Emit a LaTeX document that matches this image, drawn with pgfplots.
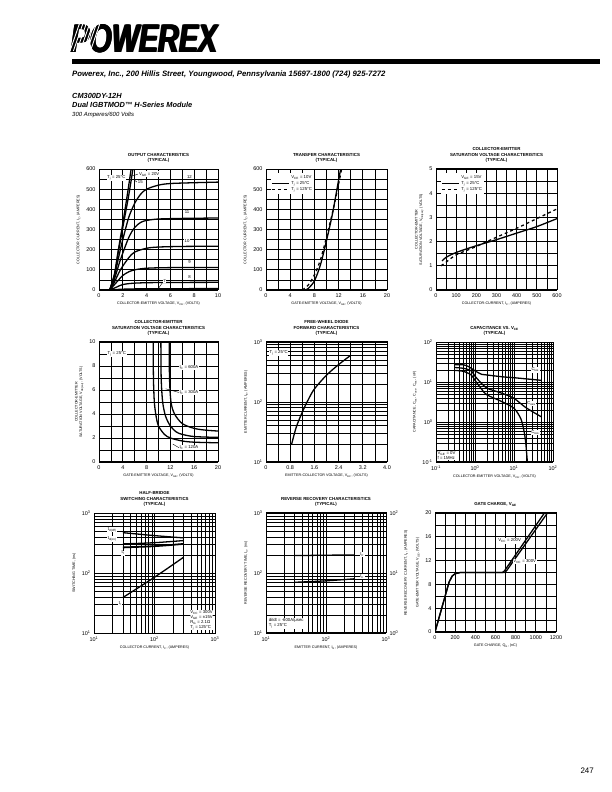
\documentclass[border=0pt]{standalone}
\usepackage{pgfplots}
\pgfplotsset{compat=1.18}
\usepackage{fontspec}
\setmainfont{Liberation Sans}
\newcommand{\tk}{\fontsize{5.5}{6}\selectfont}
\newcommand{\lb}{\fontsize{3.7}{4.4}\selectfont}
\newcommand{\ttl}{\fontsize{4.4}{5.4}\selectfont\bfseries}
\newcommand{\ann}{\fontsize{4.3}{5}\selectfont}
\pgfplotsset{
 ds/.style={scale only axis, anchor=south west, axis line style={line width=1pt},
   tick style={draw=none}, grid=both,
   major grid style={black, line width=0.75pt}, minor grid style={black, line width=0.75pt},
   tick label style={font=\tk}, label style={font=\lb}, ylabel style={align=center},
   title style={font=\ttl, align=center, yshift=-3pt},
   /pgf/number format/assume math mode=true,
   /pgf/number format/set thousands separator={},
   xlabel style={yshift=2pt}, ylabel style={yshift=-1pt},
   cycle list={black\\},
   every axis plot/.append style={line width=1.3pt, smooth, no marks}},
 lg/.style={ds, minor grid style={black, line width=0.4pt}, major grid style={black, line width=0.9pt}},
}
\tikzset{an/.style={font=\ann, fill=white, inner sep=0.6pt}}
\begin{document}
\begin{tikzpicture}[x=1bp,y=1bp]
\useasboundingbox[fill=white] (0,0) rectangle (612bp,792bp);
% header
\foreach \dx in {0,0.5,1.0,1.5} {
\node[anchor=south west, inner sep=0, font=\fontsize{40}{40}\selectfont\bfseries\itshape, xscale=0.72] at (70bp+\dx bp,739bp) {POWEREX};}
\foreach \i in {0,...,6} {\draw[white, line width=0.9pt] (70bp+\i*3.4bp,741bp) -- (80bp+\i*3.4bp,770bp);}
\fill[black] (72bp,728bp) rectangle (600bp,733bp);
\node[anchor=base west, inner sep=0, font=\fontsize{7.8}{8}\selectfont\bfseries\itshape] at (72bp,715bp) {Powerex, Inc., 200 Hillis Street, Youngwood, Pennsylvania 15697-1800 (724) 925-7272};
\node[anchor=base west, inner sep=0, font=\fontsize{7.4}{8}\selectfont\bfseries\itshape] at (72bp,693bp) {CM300DY-12H};
\node[anchor=base west, inner sep=0, font=\fontsize{7.4}{8}\selectfont\bfseries\itshape] at (72bp,684.5bp) {Dual IGBTMOD™ H-Series Module};
\node[anchor=base west, inner sep=0, font=\fontsize{6}{7}\selectfont\itshape] at (72bp,675bp) {300 Amperes/600 Volts};
\node[anchor=base east, inner sep=0, font=\fontsize{8}{9}\selectfont] at (594bp,19bp) {247};

% ---------- Plot 1: output characteristics
\begin{axis}[ds, at={(99bp,502bp)}, width=119bp, height=121bp,
 xmin=0,xmax=10,ymin=0,ymax=600,
 xtick={0,2,...,10}, minor xtick={1,3,...,9}, ytick={0,100,...,600}, minor ytick={50,150,...,550},
 title={OUTPUT CHARACTERISTICS\\(TYPICAL)},
 xlabel={COLLECTOR-EMITTER VOLTAGE, V\textsubscript{CE}, (VOLTS)},
 ylabel={COLLECTOR CURRENT, I\textsubscript{C}, (AMPERES)}]
\addplot coordinates {(0.9,0)(1.3,80)(1.6,190)(2,330)(2.4,480)(2.7,600)};
\addplot coordinates {(0.9,0)(1.3,75)(1.6,180)(2,310)(2.5,470)(2.85,600)};
\addplot coordinates {(0.9,0)(1.3,70)(1.7,175)(2,250)(2.5,360)(3,430)(3.5,475)(4,500)(5,520)(6,528)(8,532)(10,535)};
\addplot coordinates {(0.9,0)(1.3,55)(1.8,150)(2.5,260)(3,310)(3.5,335)(4,345)(5,352)(7,355)(10,357)};
\addplot coordinates {(0.9,0)(1.3,40)(1.8,100)(2.5,160)(3,188)(4,207)(5,213)(7,216)(10,217)};
\addplot coordinates {(0.9,0)(1.5,40)(2,72)(2.5,90)(3,100)(4,108)(6,111)(10,112)};
\addplot coordinates {(0.9,0)(1.5,15)(2,27)(3,34)(5,37)(10,38)};
\addplot coordinates {(0.9,0)(2,4)(4,6)(10,7)};
\node[an] at (axis cs:1.45,555) {T\textsubscript{j} = 25°C};
\draw[line width=0.4pt] (axis cs:2.75,565) -- (axis cs:3.3,575);
\node[an, anchor=west] at (axis cs:3.3,575) {V\textsubscript{GE} = 20V};
\draw[line width=0.4pt] (axis cs:2.85,550) -- (axis cs:3.2,535);
\node[an, anchor=west] at (axis cs:3.2,535) {15};
\node[an] at (axis cs:7.6,560) {12};
\node[an] at (axis cs:7.4,385) {11};
\node[an] at (axis cs:7.4,245) {10};
\node[an] at (axis cs:7.6,140) {9};
\node[an] at (axis cs:7.6,65) {8};
\node[an] at (axis cs:5.5,45) {7};
\draw[line width=0.4pt] (axis cs:5.35,38) -- (axis cs:5,8);
\end{axis}

% ---------- Plot 2: transfer
\begin{axis}[ds, at={(266bp,502bp)}, width=121bp, height=121bp,
 xmin=0,xmax=20,ymin=0,ymax=600,
 xtick={0,4,...,20}, minor xtick={2,6,...,18}, ytick={0,100,...,600}, minor ytick={50,150,...,550},
 title={TRANSFER CHARACTERISTICS\\(TYPICAL)},
 xlabel={GATE-EMITTER VOLTAGE, V\textsubscript{GE}, (VOLTS)},
 ylabel={COLLECTOR CURRENT, I\textsubscript{C}, (AMPERES)},
 legend style={at={(0.04,0.97)}, anchor=north west, draw=none, fill=white, font=\ann, inner sep=0.5pt, row sep=-2.5pt},
 legend cell align=left, legend image post style={line width=0.8pt}]
\addlegendimage{empty legend}\addlegendentry{V\textsubscript{CE} = 10V}
\addplot coordinates {(6.5,0)(7,8)(8,45)(9,125)(10,245)(11,380)(12,545)(12.35,600)};
\addlegendentry{T\textsubscript{j} = 25°C}
\addplot[dashed] coordinates {(6,0)(7,25)(8,75)(9,150)(10,262)(11,385)(12,525)(12.5,600)};
\addlegendentry{T\textsubscript{j} = 125°C}
\end{axis}

% ---------- Plot 3: Vce(sat) vs Ic
\begin{axis}[ds, at={(436bp,502bp)}, width=121bp, height=121bp,
 xmin=0,xmax=600,ymin=0,ymax=5,
 xtick={0,100,...,600}, minor xtick={50,150,...,550}, ytick={0,1,...,5}, minor ytick={0.5,1.5,...,4.5},
 title={COLLECTOR-EMITTER\\SATURATION VOLTAGE CHARACTERISTICS\\(TYPICAL)},
 xlabel={COLLECTOR-CURRENT, I\textsubscript{C}, (AMPERES)},
 ylabel={COLLECTOR-EMITTER\\SATURATION VOLTAGE, V\textsubscript{CE(sat)}, (VOLTS)},
 legend style={at={(0.04,0.97)}, anchor=north west, draw=none, fill=white, font=\ann, inner sep=0.5pt, row sep=-2.5pt},
 legend cell align=left, legend image post style={line width=0.8pt}]
\addlegendimage{empty legend}\addlegendentry{V\textsubscript{GE} = 15V}
\addplot coordinates {(30,1.2)(50,1.35)(100,1.55)(200,1.83)(300,2.08)(400,2.35)(500,2.62)(600,2.95)};
\addlegendentry{T\textsubscript{j} = 25°C}
\addplot[dashed] coordinates {(25,1.0)(50,1.15)(100,1.45)(200,1.8)(300,2.18)(400,2.55)(500,2.95)(600,3.35)};
\addlegendentry{T\textsubscript{j} = 125°C}
\end{axis}

% ---------- Plot 4: Vce(sat) vs Vge
\begin{axis}[ds, at={(99bp,330bp)}, width=119bp, height=120bp,
 xmin=0,xmax=20,ymin=0,ymax=10,
 xtick={0,4,...,20}, minor xtick={2,6,...,18}, ytick={0,2,...,10}, minor ytick={1,3,...,9},
 title={COLLECTOR-EMITTER\\SATURATION VOLTAGE CHARACTERISTICS\\(TYPICAL)},
 xlabel={GATE-EMITTER VOLTAGE, V\textsubscript{GE}, (VOLTS)},
 ylabel={COLLECTOR-EMITTER\\SATURATION VOLTAGE, V\textsubscript{CE(sat)}, (VOLTS)}]
\addplot coordinates {(9.1,10)(9.15,7)(9.3,5)(9.6,3.8)(10,3.0)(11,2.3)(12,2.0)(14,1.75)(16,1.65)(20,1.6)};
\addplot coordinates {(10.4,10)(10.45,7)(10.7,5)(11.2,3.8)(12,3.0)(13,2.5)(14,2.3)(16,2.12)(20,2.05)};
\addplot coordinates {(11.8,10)(11.85,7)(12.1,5)(12.7,4)(14,3.2)(16,2.8)(18,2.65)(20,2.58)};
\node[an] at (axis cs:3,9) {T\textsubscript{j} = 25°C};
\node[an, anchor=west] at (axis cs:13.4,7.9) {I\textsubscript{C} = 600A};
\draw[line width=0.4pt] (axis cs:11.2,6.1) -- (axis cs:13.4,5.8);
\node[an, anchor=west] at (axis cs:13.4,5.8) {I\textsubscript{C} = 300A};
\draw[line width=0.4pt] (axis cs:12.4,1.5) -- (axis cs:13.4,1.2);
\node[an, anchor=west] at (axis cs:13.4,1.2) {I\textsubscript{C} = 120A};
\end{axis}

% ---------- Plot 5: diode forward
\begin{axis}[lg, at={(266bp,330bp)}, width=121bp, height=120bp,
 xmin=0,xmax=4,ymin=10,ymax=1000, ymode=log,
 xtick={0,0.8,...,4.0}, minor xtick={0.4,1.2,...,3.6},
 xticklabels={0,0.8,1.6,2.4,3.2,4.0},
 ytick={10,100,1000}, yticklabels={10\textsuperscript{1},10\textsuperscript{2},10\textsuperscript{3}},
 minor grid style={black, line width=0.75pt}, major grid style={black, line width=0.9pt},
 title={FREE-WHEEL DIODE\\FORWARD CHARACTERISTICS\\(TYPICAL)},
 xlabel={EMITTER-COLLECTOR VOLTAGE, V\textsubscript{EC}, (VOLTS)},
 ylabel={EMITTER CURRENT, I\textsubscript{E}, (AMPERES)}]
\addplot coordinates {(0.85,20)(1.0,38)(1.2,68)(1.4,110)(1.6,165)(2.0,280)(2.4,420)(2.8,600)};
\node[an] at (axis cs:0.42,650) {T\textsubscript{j} = 25°C};
\end{axis}

% ---------- Plot 6: capacitance
\begin{axis}[lg, at={(436bp,330bp)}, width=117bp, height=120bp,
 xmin=0.1,xmax=100,ymin=0.1,ymax=100, xmode=log, ymode=log,
 xtick={0.1,1,10,100}, xticklabels={10\textsuperscript{-1},10\textsuperscript{0},10\textsuperscript{1},10\textsuperscript{2}},
 ytick={0.1,1,10,100}, yticklabels={10\textsuperscript{-1},10\textsuperscript{0},10\textsuperscript{1},10\textsuperscript{2}},
 title={CAPACITANCE VS. V\textsubscript{CE}\\(TYPICAL)},
 xlabel={COLLECTOR-EMITTER VOLTAGE, V\textsubscript{CE}, (VOLTS)},
 ylabel={CAPACITANCE, C\textsubscript{ies}, C\textsubscript{oes}, C\textsubscript{res}, (nF)}]
\addplot coordinates {(0.3,27)(0.5,27)(0.7,24)(1,19)(1.5,15.5)(2,15)(5,13.5)(10,12.8)(20,12)(50,11)};
\addplot coordinates {(0.3,23)(0.5,22)(0.8,19)(1,14)(1.5,9)(2,7)(5,5.2)(10,3.9)(20,2.3)(50,1.35)};
\addplot coordinates {(0.3,19.5)(0.5,18.5)(0.8,15)(1,11)(1.5,6.5)(2,4.8)(5,3.2)(10,2.2)(15,1.2)(18,0.6)(20,0.3)(22,0.1)};
\node[an] at (axis cs:35,20) {C\textsubscript{ies}};
\node[an] at (axis cs:28,2.9) {C\textsubscript{oes}};
\node[an] at (axis cs:35,0.55) {C\textsubscript{res}};
\node[an, anchor=south west, align=left] at (axis cs:0.105,0.11) {V\textsubscript{GE} = 0V\\f = 1MHz};
\end{axis}

% ---------- Plot 7: switching
\begin{axis}[lg, at={(94bp,159bp)}, width=121bp, height=120bp,
 xmin=10,xmax=1000,ymin=10,ymax=1000, xmode=log, ymode=log,
 xtick={10,100,1000}, xticklabels={10\textsuperscript{1},10\textsuperscript{2},10\textsuperscript{3}},
 ytick={10,100,1000}, yticklabels={10\textsuperscript{1},10\textsuperscript{2},10\textsuperscript{3}},
 title={HALF-BRIDGE\\SWITCHING CHARACTERISTICS\\(TYPICAL)},
 xlabel={COLLECTOR CURRENT, I\textsubscript{C}, (AMPERES)},
 ylabel={SWITCHING TIME, (ns)}]
\addplot coordinates {(30,470)(100,420)(300,385)};
\addplot coordinates {(30,305)(100,320)(300,347)};
\addplot[line width=1.8pt] coordinates {(30,267)(100,280)(300,305)};
\addplot coordinates {(30,39)(100,85)(300,182)};
\node[an] at (axis cs:20,530) {t\textsubscript{d(off)}};
\node[an] at (axis cs:20,370) {t\textsubscript{d(on)}};
\node[an] at (axis cs:30,215) {t\textsubscript{f}};
\node[an] at (axis cs:27,31) {t\textsubscript{r}};
\node[an, anchor=south east, align=left] at (axis cs:950,11) {V\textsubscript{CC} = 300V\\V\textsubscript{GE} = ±15V\\R\textsubscript{G} = 2.1Ω\\T\textsubscript{j} = 125°C};
\end{axis}

% ---------- Plot 8: reverse recovery
\begin{axis}[lg, at={(266bp,159bp)}, width=120bp, height=120bp,
 xmin=10,xmax=1000,ymin=10,ymax=1000, xmode=log, ymode=log,
 xtick={10,100,1000}, xticklabels={10\textsuperscript{1},10\textsuperscript{2},10\textsuperscript{3}},
 ytick={10,100,1000}, yticklabels={10\textsuperscript{1},10\textsuperscript{2},10\textsuperscript{3}},
 title={REVERSE RECOVERY CHARACTERISTICS\\(TYPICAL)},
 xlabel={EMITTER CURRENT, I\textsubscript{E}, (AMPERES)},
 ylabel={REVERSE RECOVERY TIME, t\textsubscript{rr}, (ns)}]
\addplot coordinates {(30,70)(100,74)(300,80)};
\node[an] at (axis cs:400,205) {I\textsubscript{rr}};
\node[an] at (axis cs:400,88) {t\textsubscript{rr}};
\node[an, anchor=south west, align=left] at (axis cs:10.8,11.5) {di/dt = -600A/μsec\\T\textsubscript{j} = 25°C};
\end{axis}
\begin{axis}[scale only axis, anchor=south west, at={(266bp,159bp)}, width=120bp, height=120bp,
 xmin=10,xmax=1000,ymin=1,ymax=100, xmode=log, ymode=log, axis x line=none, axis y line*=right,
 axis line style={line width=1pt}, tick style={draw=none},
 ytick={1,10,100}, yticklabels={10\textsuperscript{0},10\textsuperscript{1},10\textsuperscript{2}},
 tick label style={font=\tk}, label style={font=\lb},
 ylabel={REVERSE RECOVERY CURRENT, I\textsubscript{rr}, (AMPERES)}, ylabel style={yshift=1pt}]
\addplot[line width=1.3pt, black, no marks] coordinates {(30,19.5)(100,19.8)(300,20)};
\end{axis}

% ---------- Plot 9: gate charge
\begin{axis}[ds, at={(435bp,160bp)}, width=121bp, height=119bp,
 xmin=0,xmax=1200,ymin=0,ymax=20,
 xtick={0,200,...,1200}, minor xtick={100,300,...,1100}, ytick={0,4,...,20}, minor ytick={2,6,...,18},
 title={GATE CHARGE, V\textsubscript{GE}},
 xlabel={GATE CHARGE, Q\textsubscript{G}, (nC)},
 ylabel={GATE-EMITTER VOLTAGE, V\textsubscript{GE}, (VOLTS)}]
\addplot[sharp plot] coordinates {(0,0)(140,8.4)(170,9.4)(200,9.8)(250,10)(670,10)(690,10.3)(1085,20)};
\addplot[sharp plot] coordinates {(0,0)(140,8.4)(170,9.4)(200,9.8)(250,10)(690,10)(710,10.3)(1115,20)};
\node[an, anchor=west] at (axis cs:620,15.3) {V\textsubscript{CC} = 200V};
\node[an, anchor=west] at (axis cs:770,11.8) {V\textsubscript{CC} = 300V};
\draw[line width=0.4pt] (axis cs:730,11.2) -- (axis cs:770,11.8);
\end{axis}
\end{tikzpicture}
\end{document}
